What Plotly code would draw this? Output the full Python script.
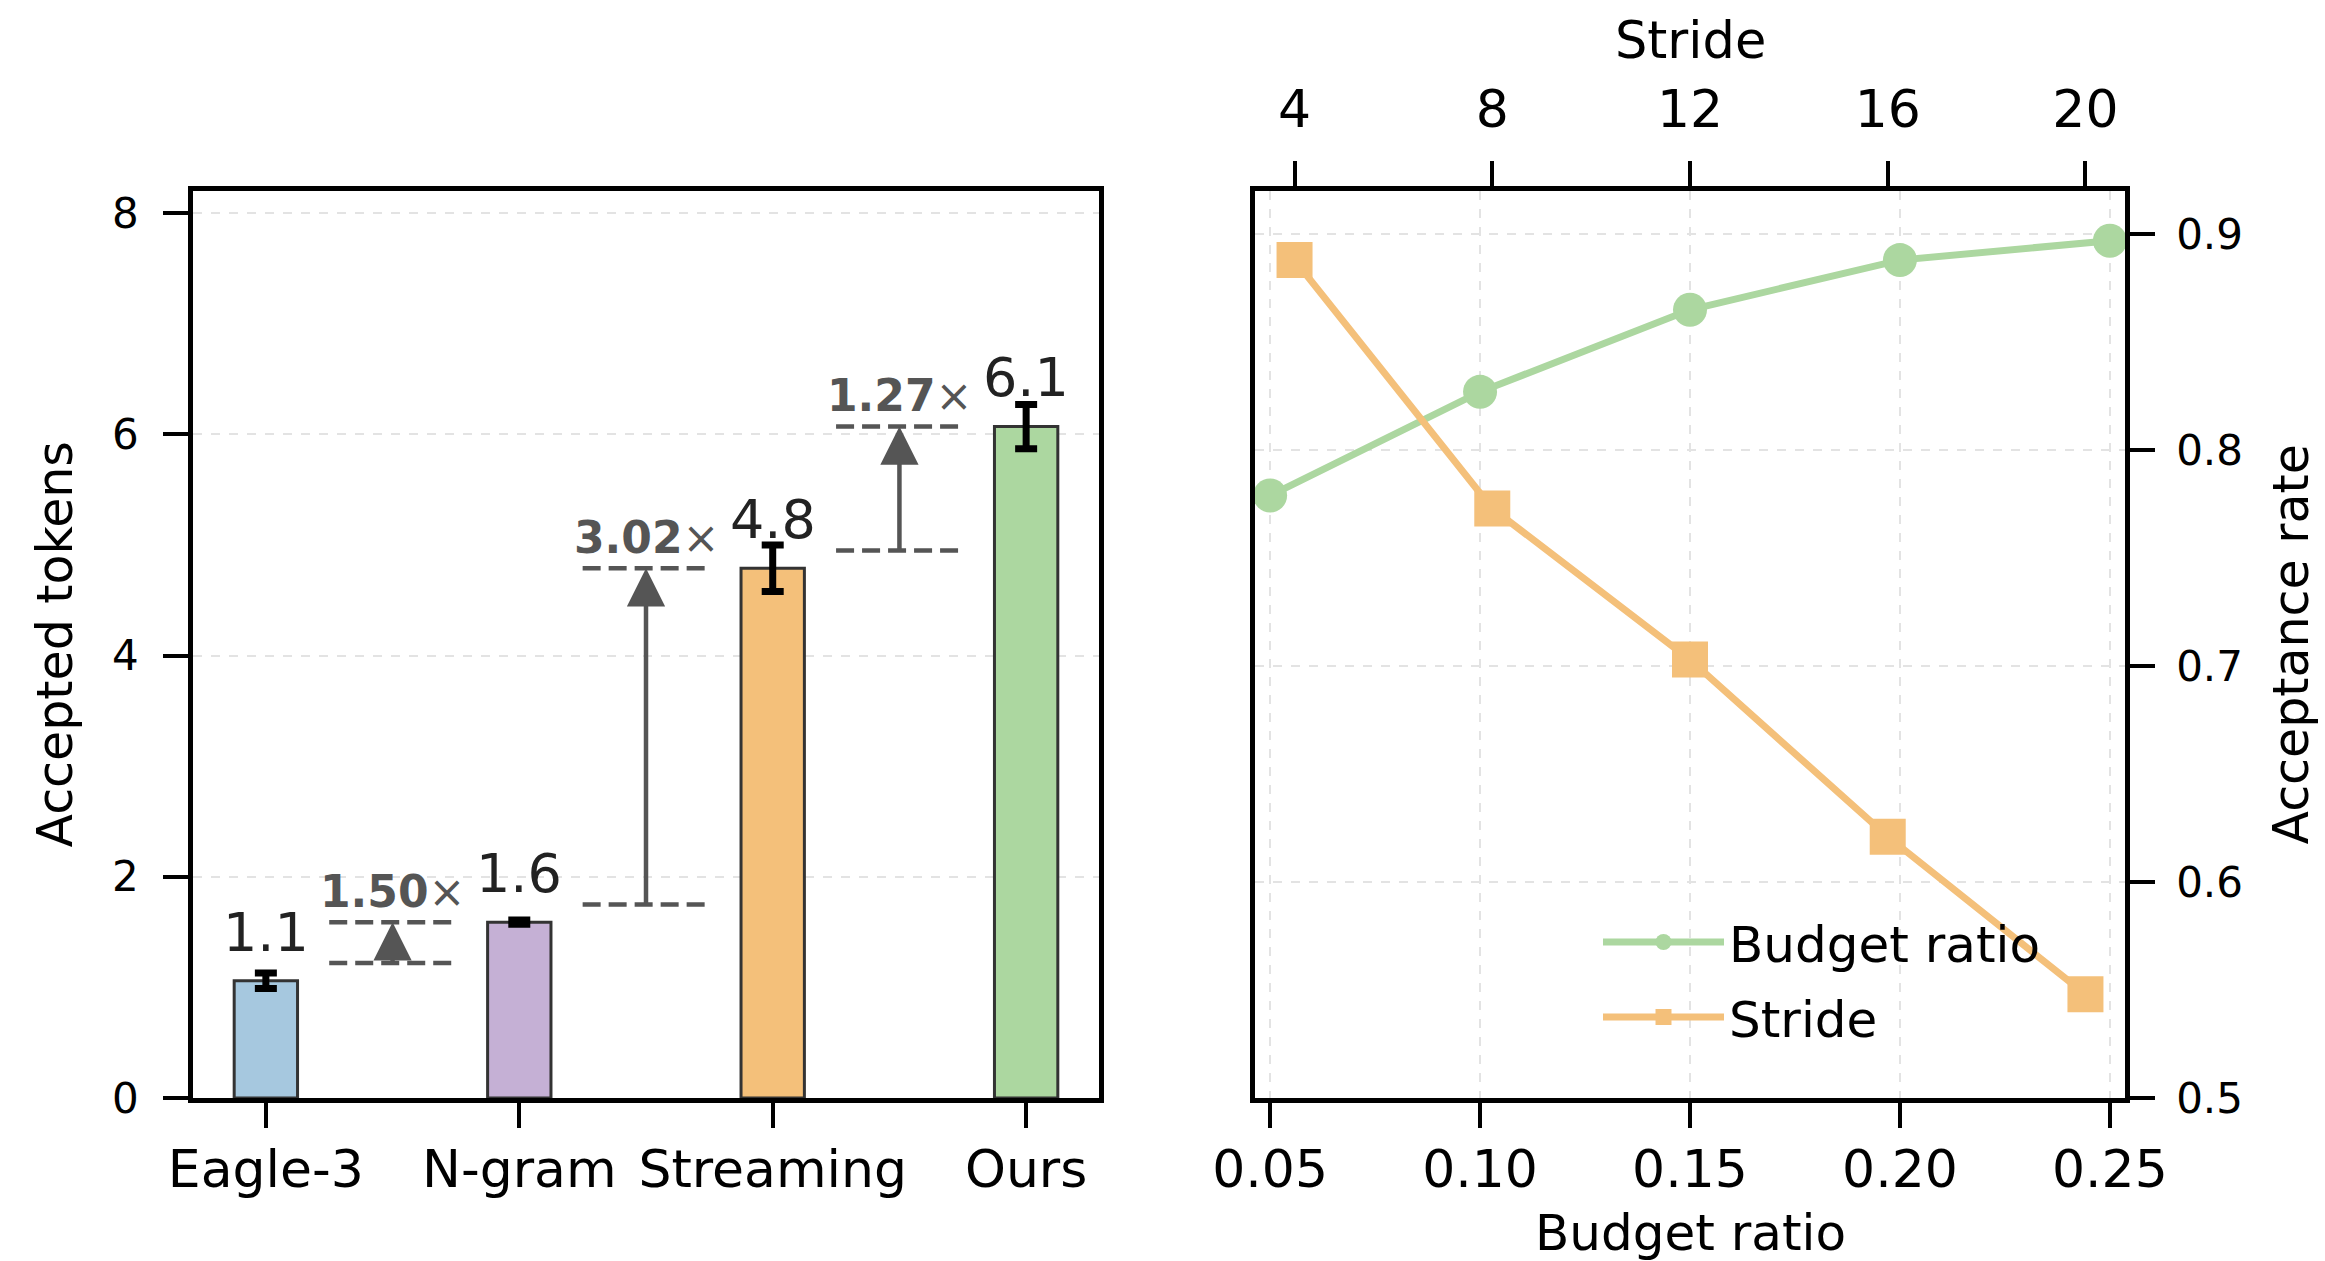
import plotly.graph_objects as go

# ---------------- data ----------------
categories = ["Eagle-3", "N-gram", "Streaming", "Ours"]
accepted_tokens = [1.06, 1.59, 4.79, 6.07]
accepted_err = [0.07, 0.02, 0.21, 0.20]
bar_colors = ["#a6c8df", "#c5b0d5", "#f4c07a", "#acd7a0"]
speedup_labels = ["1.50", "3.02", "1.27"]

budget_ratio = [0.05, 0.10, 0.15, 0.20, 0.25]
budget_acc = [0.779, 0.827, 0.865, 0.888, 0.897]
stride_vals = [4, 8, 12, 16, 20]
stride_acc = [0.888, 0.773, 0.703, 0.621, 0.548]

left_yticks = [0, 2, 4, 6, 8]
right_yticks = [0.5, 0.6, 0.7, 0.8, 0.9]

# ---------------- layout helpers ----------------
W, H = 2325, 1261
FONT = "DejaVu Sans"


def px_x(p):
    return p / W


def px_y(p):
    return 1 - p / H


AX_TOP, AX_BOT = 191, 1098
L_LEFT, L_RIGHT = 193, 1099
R_LEFT, R_RIGHT = 1255, 2125

fig = go.Figure()

# bars
fig.add_trace(go.Bar(
    x=list(range(len(categories))), y=accepted_tokens, width=0.25,
    marker=dict(color=bar_colors, line=dict(color="#333333", width=3)),
    error_y=dict(type="data", array=accepted_err, color="black", thickness=7, width=11),
    xaxis="x", yaxis="y", showlegend=False, hoverinfo="skip",
))

# lines
fig.add_trace(go.Scatter(
    x=budget_ratio, y=budget_acc, mode="lines+markers", name="Budget ratio",
    line=dict(color="#acd7a0", width=7),
    marker=dict(symbol="circle", size=34, color="#acd7a0"),
    xaxis="x2", yaxis="y2", legendgroup="a",
))
fig.add_trace(go.Scatter(
    x=stride_vals, y=stride_acc, mode="lines+markers", name="Stride",
    line=dict(color="#f4c07a", width=7),
    marker=dict(symbol="square", size=36, color="#f4c07a"),
    xaxis="x3", yaxis="y2", legendgroup="b",
))

annotations = []
shapes = []

# value labels
for i, v in enumerate(accepted_tokens):
    annotations.append(dict(
        x=i, y=v + 0.44, xref="x", yref="y", text=f"{v:.1f}", showarrow=False,
        xanchor="center", yanchor="middle", font=dict(family=FONT, size=54, color="#222222"),
    ))

# speed-up markers
for i, lbl in enumerate(speedup_labels):
    mid = i + 0.5
    lower = accepted_tokens[i] + 0.16
    upper = accepted_tokens[i + 1]
    for yy in (lower, upper):
        shapes.append(dict(
            type="line", xref="x", yref="y", x0=mid - 0.25, x1=mid + 0.25, y0=yy, y1=yy,
            line=dict(color="#555555", width=4.5, dash="18px,8px"),
        ))
    annotations.append(dict(
        x=mid, y=upper, ax=mid, ay=lower, xref="x", yref="y", axref="x", ayref="y",
        text="", showarrow=True, arrowhead=2, arrowsize=1.7, arrowwidth=4.5,
        arrowcolor="#555555", standoff=0, startstandoff=0,
    ))
    annotations.append(dict(
        x=mid, y=upper + 0.28, xref="x", yref="y", text=f"<b>{lbl}</b>×", showarrow=False,
        xanchor="center", yanchor="middle", font=dict(family=FONT, size=44, color="#555555"),
    ))

# axis titles
annotations += [
    dict(x=px_x(55), y=px_y((AX_TOP + AX_BOT) / 2), xref="paper", yref="paper",
         text="Accepted tokens", textangle=-90, showarrow=False,
         xanchor="center", yanchor="middle",
         font=dict(family=FONT, size=49, color="black")),
    dict(x=px_x(2291), y=px_y((AX_TOP + AX_BOT) / 2), xref="paper", yref="paper",
         text="Acceptance rate", textangle=-90, showarrow=False,
         xanchor="center", yanchor="middle",
         font=dict(family=FONT, size=49, color="black")),
    dict(x=px_x((R_LEFT + R_RIGHT) / 2), y=px_y(1233), xref="paper", yref="paper",
         text="Budget ratio", showarrow=False, xanchor="center", yanchor="middle",
         font=dict(family=FONT, size=50, color="black")),
    dict(x=px_x((R_LEFT + R_RIGHT) / 2), y=px_y(41), xref="paper", yref="paper",
         text="Stride", showarrow=False, xanchor="center", yanchor="middle",
         font=dict(family=FONT, size=51, color="black")),
]

common_axis = dict(
    showline=True, linecolor="black", linewidth=4.5, mirror=True,
    ticks="outside", ticklen=25, tickwidth=4, tickcolor="black",
    zeroline=False, automargin=False,
)
grid = dict(showgrid=True, gridcolor="#e3e3e3", gridwidth=1.5, griddash="dash")

fig.update_layout(
    width=W, height=H, margin=dict(l=0, r=0, t=0, b=0, autoexpand=False),
    paper_bgcolor="white", plot_bgcolor="white",
    font=dict(family=FONT, color="black"),
    xaxis=dict(
        domain=[px_x(L_LEFT), px_x(L_RIGHT)], anchor="y",
        range=[-0.2875, 3.2875], tickvals=list(range(len(categories))), ticktext=categories,
        tickfont=dict(size=52), showgrid=False, ticklabelstandoff=-3, **common_axis,
    ),
    yaxis=dict(
        domain=[px_y(AX_BOT), px_y(AX_TOP)], anchor="x",
        range=[0, 8.2], tickvals=left_yticks, ticktext=[str(t) for t in left_yticks],
        tickfont=dict(size=42), ticklabelstandoff=16, **grid, **common_axis,
    ),
    xaxis2=dict(
        domain=[px_x(R_LEFT), px_x(R_RIGHT)], anchor="y2",
        range=[0.0464, 0.2536], tickvals=budget_ratio, ticktext=[f"{b:.2f}" for b in budget_ratio],
        tickfont=dict(size=52), ticklabelstandoff=-3, **grid, **common_axis,
    ),
    xaxis3=dict(
        overlaying="x2", anchor="y2", side="top",
        range=[3.2, 20.8], tickvals=stride_vals, ticktext=[str(s) for s in stride_vals],
        tickfont=dict(size=52), ticklabelstandoff=13, showgrid=False,
        showline=True, linecolor="black", linewidth=4.5, automargin=False,
        ticks="outside", ticklen=25, tickwidth=4, tickcolor="black", zeroline=False,
    ),
    yaxis2=dict(
        domain=[px_y(AX_BOT), px_y(AX_TOP)], anchor="x2", side="right",
        range=[0.5, 0.92], tickvals=right_yticks, ticktext=[f"{t:.1f}" for t in right_yticks],
        tickfont=dict(size=42), ticklabelstandoff=13, **grid, **common_axis,
    ),
    legend=dict(
        x=px_x(1598), y=px_y(903), xanchor="left", yanchor="top",
        font=dict(family=FONT, size=50, color="black"), bgcolor="rgba(0,0,0,0)",
        itemwidth=121, tracegroupgap=7, traceorder="grouped",
    ),
    annotations=annotations,
    shapes=shapes,
)

fig.write_html(
    "out.html",
    config={"displayModeBar": False},
    post_script="document.body.style.margin='0';document.body.style.overflow='hidden';",
)
